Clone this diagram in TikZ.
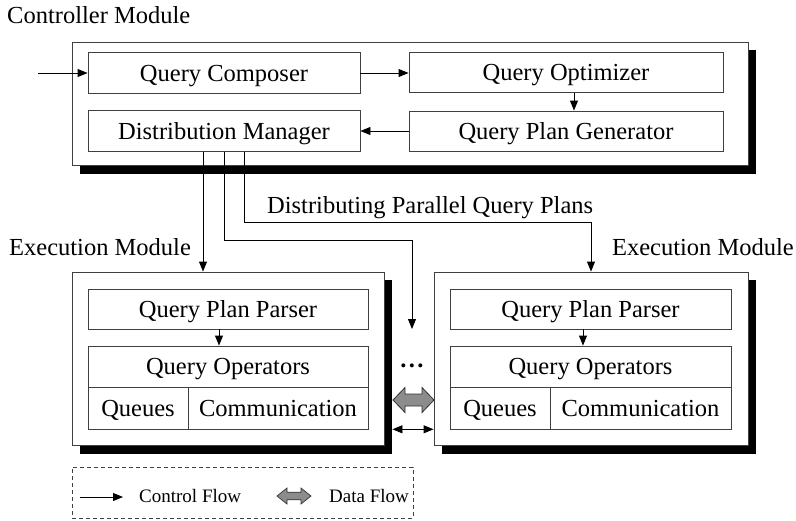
\documentclass[tikz,border=0pt]{standalone}
\usepackage{fontspec}
\setmainfont{Liberation Serif}
\usetikzlibrary{arrows.meta,backgrounds,calc}
\begin{document}
\begin{tikzpicture}[x=1pt,y=-1pt,
  font=\fontsize{24.5}{28}\selectfont,
  box/.style={draw=black!75, line width=0.9pt, fill=white, inner sep=0pt, anchor=center, text height=16.5pt, text depth=0pt},
  arr/.style={line width=0.9pt, -{Triangle[length=10pt,width=8pt]}},
  lbl/.style={inner sep=0pt, text height=16.5pt, text depth=0pt},
  legendtext/.style={inner sep=0pt, anchor=west, font=\fontsize{19}{22}\selectfont, text height=12.8pt, text depth=0pt},
  fatarrow/.style={draw=black!80, line width=0.8pt, fill=black!45},
]
\useasboundingbox (0,0) rectangle (796,520);

% module frames
\node[box, minimum width=676pt, minimum height=123pt] (ctrl) at (410,103.5) {};
\node[box, minimum width=312pt, minimum height=173pt] (ex1) at (228,358.5) {};
\node[box, minimum width=314pt, minimum height=173pt] (ex2) at (591,358.5) {};
\begin{scope}[on background layer]
  \foreach \n in {ctrl,ex1,ex2}
    \fill[black] ([shift={(8,8.5)}]\n.north west) rectangle ([shift={(8,8.5)}]\n.south east);
\end{scope}

% module labels
\node[lbl, anchor=west] (lctrl) at (7,15) {Controller Module};
\node[lbl, anchor=west] (lex1) at (9,247) {Execution Module};
\node[lbl, anchor=east] (lex2) at (794,247) {Execution Module};

% controller components
\node[box, minimum width=272pt, minimum height=41pt] (qc) at (224,73) {Query Composer};
\node[box, minimum width=314pt, minimum height=40pt] (qopt) at (566,72.5) {Query Optimizer};
\node[box, minimum width=314pt, minimum height=40pt] (qpg) at (566,131) {Query Plan Generator};
\node[box, minimum width=272pt, minimum height=41pt] (dm) at (224,131.2) {Distribution Manager};

% execution module 1
\node[box, minimum width=280pt, minimum height=40pt] (qpp1) at (228,309) {Query Plan Parser};
\node[box, minimum width=280pt, minimum height=41pt] (qo1) at (228,366.5) {Query Operators};
\node[box, minimum width=100pt, minimum height=42pt] (qu1) at (138,408) {Queues};
\node[box, minimum width=180pt, minimum height=42pt] (co1) at (278,408) {Communication};

% execution module 2
\node[box, minimum width=281pt, minimum height=40pt] (qpp2) at (590.5,309) {Query Plan Parser};
\node[box, minimum width=281pt, minimum height=41pt] (qo2) at (590.5,366.5) {Query Operators};
\node[box, minimum width=100pt, minimum height=42pt] (qu2) at (500,408) {Queues};
\node[box, minimum width=181pt, minimum height=42pt] (co2) at (640.5,408) {Communication};

% controller arrows
\coordinate (in) at (38,73);
\draw[arr] (in) -- (qc.west);
\draw[arr] (qc.east) -- (qc.east -| qopt.west);
\draw[arr] ([xshift=8pt]qopt.south) -- ([xshift=8pt]qpg.north);
\draw[arr] (qpg.west) -- (qpg.west -| dm.east);

% distribution lines
\coordinate (y240) at (0,240);
\coordinate (y222) at (0,222);
\coordinate (dots) at (412,329);
\draw[arr] ([xshift=-21pt]dm.south) -- ([xshift=-21pt]dm.south |- ex1.north);
\draw[arr] (dm.south) |- (dots |- y240) -- (dots);
\draw[arr] ([xshift=20pt]dm.south) |- (ex2.north |- y222) -- (ex2.north);
\node[lbl, anchor=west] (dpq) at (267,205.5) {Distributing Parallel Query Plans};

% inner arrows
\draw[arr] ([xshift=-9pt]qpp1.south) -- ([xshift=-9pt]qo1.north);
\draw[arr] ([xshift=-7.5pt]qpp2.south) -- ([xshift=-7.5pt]qo2.north);

% dots
\node[inner sep=0pt, anchor=base] (dotsl) at (412,367) {\textbf{.\kern2.4pt.\kern2.4pt.}};

% data flow between modules
\draw[fatarrow] (393,400) -- (405,387.5) -- (405,394) -- (422,394) -- (422,387.5) -- (434,400)
  -- (422,412.5) -- (422,406) -- (405,406) -- (405,412.5) -- cycle;
\coordinate (y429) at (0,429.3);
\draw[line width=0.9pt, {Triangle[length=10pt,width=8pt]}-{Triangle[length=10pt,width=8pt]}]
  ([xshift=8pt]ex1.east |- y429) -- (ex2.west |- y429);

% legend
\node[draw=black!75, line width=0.8pt, dash pattern=on 4pt off 3pt, minimum width=341pt, minimum height=51pt, inner sep=0pt] (legend) at (242.5,492.5) {};
\coordinate (lcs) at (80,497);
\coordinate (lce) at (123,497);
\draw[arr] (lcs) -- (lce);
\node[legendtext] (lcf) at (139,496.5) {Control Flow};
\draw[fatarrow, line width=0.7pt] (277,496) -- (287,488) -- (287,492.2) -- (301,492.2) -- (301,488) -- (311,496)
  -- (301,504) -- (301,499.8) -- (287,499.8) -- (287,504) -- cycle;
\node[legendtext] (ldf) at (329,496.5) {Data Flow};
\end{tikzpicture}
\end{document}
